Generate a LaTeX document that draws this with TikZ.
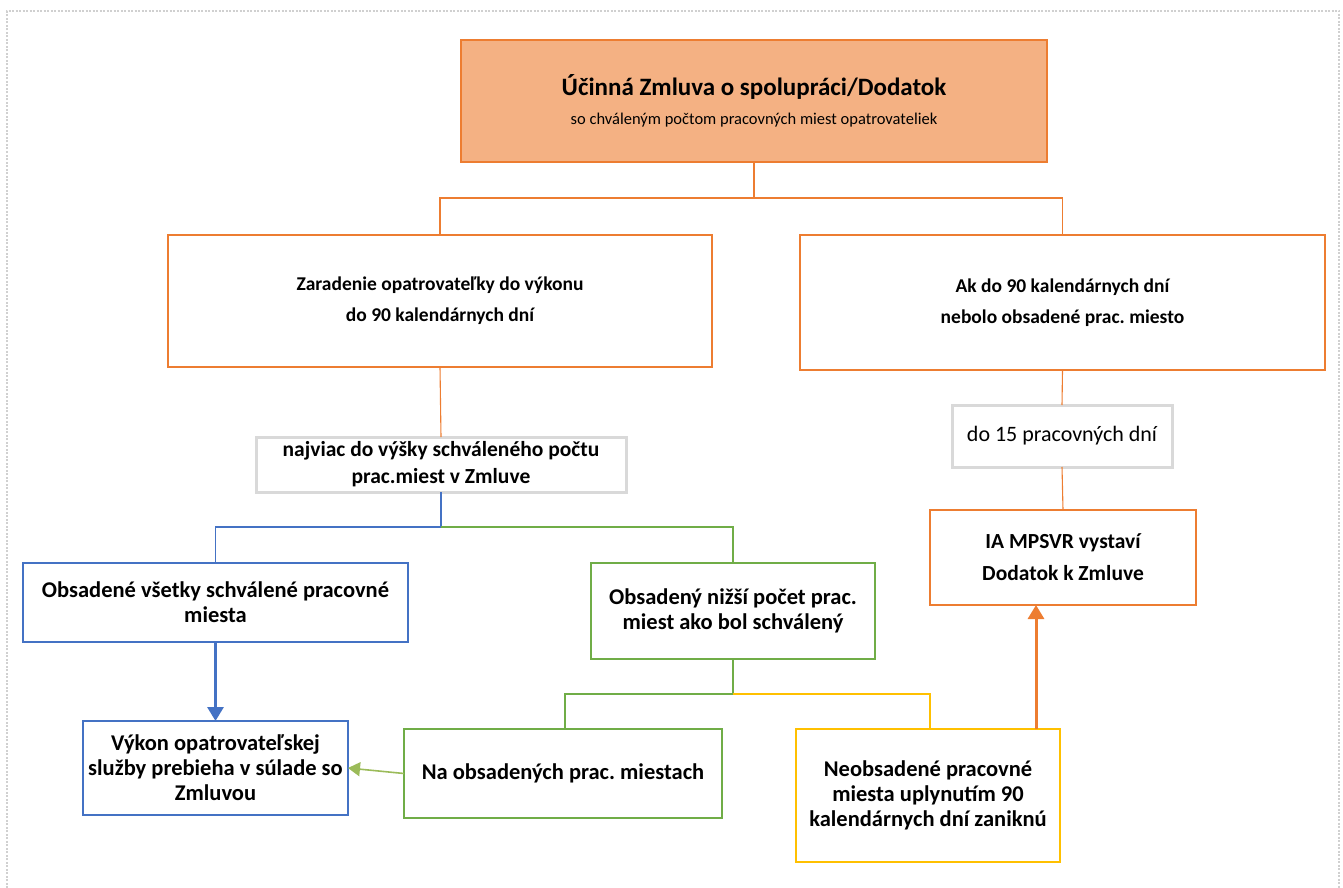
\documentclass[tikz,border=0pt]{standalone}
\usepackage{fontspec}
\setmainfont{Carlito}
\frenchspacing
\usetikzlibrary{arrows.meta}
\definecolor{cOrange}{HTML}{ED7D31}
\definecolor{cFill}{HTML}{F4B183}
\definecolor{cBlue}{HTML}{4472C4}
\definecolor{cGreen}{HTML}{70AD47}
\definecolor{cLGreen}{HTML}{9BBB59}
\definecolor{cYellow}{HTML}{FFC000}
\definecolor{cGray}{HTML}{D9D9D9}
\definecolor{cFrame}{HTML}{D0D0D0}
\tikzset{
  box/.style={draw, line width=2.8pt, inner sep=2pt, outer sep=0pt, align=center, text=black},
  obox/.style={box, draw=cOrange},
  bbox/.style={box, draw=cBlue},
  gbox/.style={box, draw=cGreen},
  ybox/.style={box, draw=cYellow},
  graybox/.style={box, draw=cGray, line width=3pt},
  conn/.style={line width=1.1pt},
  fbig/.style={font=\fontsize{22.5}{25}\selectfont\bfseries},
  fmid/.style={font=\fontsize{19.5}{31}\selectfont\bfseries},
}
\begin{document}
\begin{tikzpicture}[x=1pt,y=-1pt]
\useasboundingbox (0,0) rectangle (1343,888);
\draw[cFrame, line width=1.2pt, dash pattern=on 2pt off 1.5pt] (7,888) -- (7,11) -- (1339,11) -- (1339,888);

\node[obox, fill=cFill, minimum width=586pt, minimum height=122pt] (top) at (754,101)
  {\fontsize{25}{30}\selectfont\bfseries Účinná Zmluva o spolupráci/Dodatok\\[12pt]
   \fontsize{16.5}{20}\selectfont so chváleným počtom pracovných miest opatrovateliek};
\node[obox, fmid, minimum width=544pt, minimum height=132pt] (left) at (440,301)
  {Zaradenie opatrovateľky do výkonu\\do 90 kalendárnych dní};
\node[obox, fmid, minimum width=525pt, minimum height=135pt] (right) at (1062.5,302.5)
  {Ak do 90 kalendárnych dní\\nebolo obsadené prac. miesto};
\node[graybox, font=\fontsize{21.5}{27}\selectfont\bfseries, minimum width=370pt, minimum height=55pt] (gray1) at (441,464.5)
  {najviac do výšky schváleného počtu\\prac.miest v Zmluve};
\node[bbox, fbig, minimum width=385pt, minimum height=79pt] (blue) at (215.5,602.5)
  {Obsadené všetky schválené pracovné\\miesta};
\node[gbox, fbig, minimum width=284pt, minimum height=96pt] (green1) at (733,611)
  {Obsadený nižší počet prac.\\miest ako bol schválený};
\node[bbox, fbig, minimum width=265pt, minimum height=94pt] (vykon) at (215.5,768)
  {Výkon opatrovateľskej\\služby prebieha v súlade so\\Zmluvou};
\node[gbox, fbig, minimum width=318pt, minimum height=89pt] (na) at (563,773.5)
  {Na obsadených prac. miestach};
\node[ybox, fbig, minimum width=264pt, minimum height=133pt] (yellow) at (928,795.5)
  {Neobsadené pracovné\\miesta uplynutím 90\\kalendárnych dní zaniknú};
\node[graybox, font=\fontsize{22}{26}\selectfont, minimum width=220pt, minimum height=62pt] (gray2) at (1062,436)
  {do 15 pracovných dní};
\node[obox, font=\fontsize{21.5}{32}\selectfont\bfseries, minimum width=266pt, minimum height=95pt] (ia) at (1063,557.5)
  {IA MPSVR vystaví\\Dodatok k Zmluve};

% connectors
\draw[conn, cOrange] (top.south) -- ++(0,36) -| (left.north);
\draw[conn, cOrange] (top.south) -- ++(0,36) -| (right.north);
\draw[conn, cOrange] (left.south) -- (gray1.north);
\draw[conn, cOrange] (right.south) -- (gray2.north);
\draw[conn, cOrange] (gray2.south) -- (ia.north);
\draw[conn, cBlue] (gray1.south) -- ++(0,35) -| (blue.north);
\draw[conn, cGreen] ([yshift=-35pt]gray1.south) -| (green1.north);
\draw[conn, cGreen] (green1.south) -- ++(0,35) -| ([xshift=2pt]na.north);
\draw[conn, cYellow] ([yshift=-35pt]green1.south) -| ([xshift=2pt]yellow.north);
\draw[line width=3pt, cBlue, -{Triangle[length=14pt,width=16pt]}] (blue.south) -- (vykon.north);
\draw[line width=1.6pt, cLGreen, -{Triangle[length=12pt,width=14pt]}] (na.west) -- (vykon.east);
\draw[line width=3pt, cOrange, -{Triangle[length=14pt,width=16pt]}] ([xshift=108pt]yellow.north) -- ([xshift=-27pt]ia.south);
\end{tikzpicture}
\end{document}
